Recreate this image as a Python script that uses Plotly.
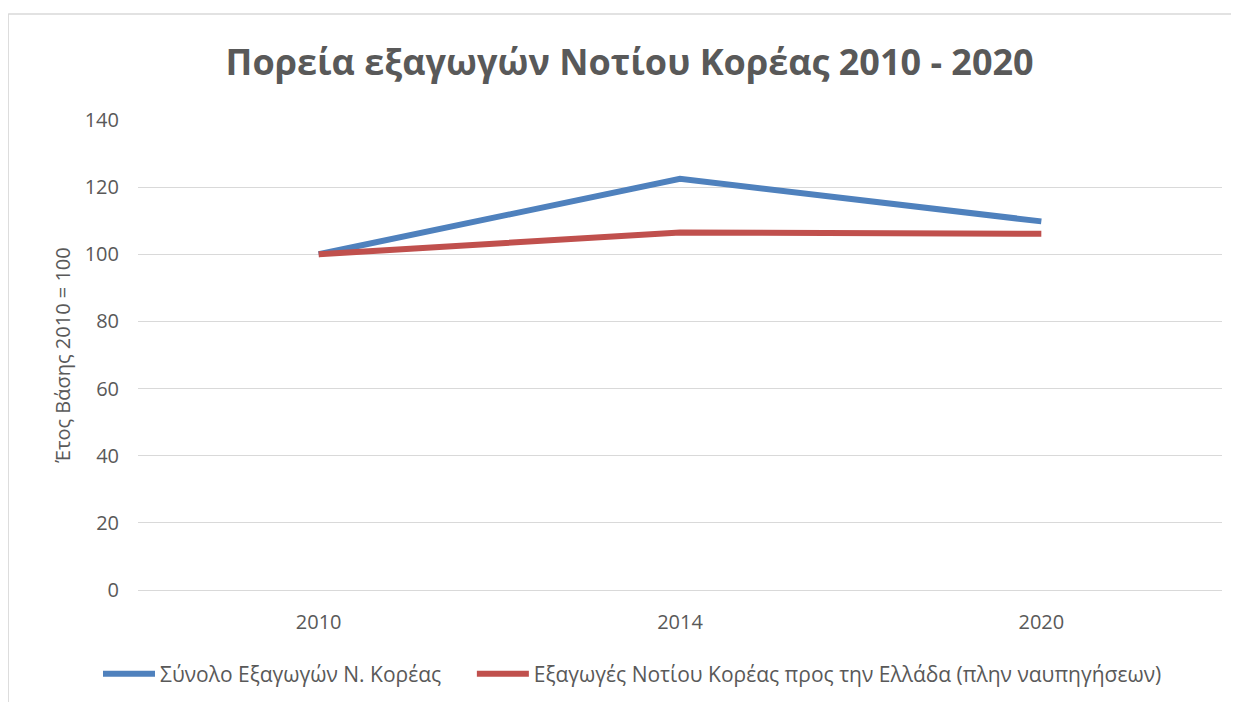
import plotly.graph_objects as go

years = ["2010", "2014", "2020"]
total_exports = [100, 122.5, 109.8]
exports_to_greece = [100, 106.5, 106.1]
series_names = ["Σύνολο Εξαγωγών Ν. Κορέας",
                "Εξαγωγές Νοτίου Κορέας προς την Ελλάδα (πλην ναυπηγήσεων)"]
y_ticks = [0, 20, 40, 60, 80, 100, 120, 140]

fig = go.Figure()
fig.add_trace(go.Scatter(x=years, y=total_exports, mode="lines", name=series_names[0],
                         line=dict(color="#4F81BD", width=6), legend="legend",
                         showlegend=True))
fig.add_trace(go.Scatter(x=years, y=exports_to_greece, mode="lines", name=series_names[1],
                         line=dict(color="#C0504D", width=6), legend="legend2",
                         showlegend=True))

font_family = "Open Sans, Liberation Sans, sans-serif"
legend_common = dict(orientation="h", xanchor="left", y=-0.179, yanchor="middle",
                     font=dict(size=21, color="#595959"), itemwidth=52,
                     bgcolor="rgba(0,0,0,0)")
fig.update_layout(
    width=1231, height=694,
    showlegend=True,
    margin=dict(l=130, r=17, t=112, b=112, autoexpand=False),
    paper_bgcolor="white", plot_bgcolor="white",
    title=dict(text="<b>Πορεία εξαγωγών Νοτίου Κορέας 2010 - 2020</b>",
               x=0.505, xanchor="center", y=0.922, yanchor="middle",
               font=dict(family=font_family, size=36, color="#595959")),
    font=dict(family=font_family, size=20, color="#595959"),
    xaxis=dict(type="category", range=[-0.5, 2.5], showgrid=False, ticks="",
               showline=True, linecolor="#D9D9D9", linewidth=1,
               ticklabelstandoff=14,
               tickfont=dict(size=20, color="#595959")),
    yaxis=dict(range=[0, 140], tickvals=y_ticks, showgrid=True, gridcolor="#D9D9D9",
               gridwidth=1, zeroline=False, ticks="", ticklen=0,
               ticklabelstandoff=18,
               tickfont=dict(size=20, color="#595959"),
               title=dict(text="Έτος Βάσης 2010 = 100", standoff=8,
                          font=dict(size=20, color="#595959"))),
    legend=dict(x=-0.0369, **legend_common),
    legend2=dict(x=0.308, **legend_common),
    shapes=[
        dict(type="line", xref="paper", yref="paper", x0=-0.1198, x1=-0.1198,
             y0=1.2255, y1=-0.3, line=dict(color="#D9D9D9", width=1.5)),
        dict(type="line", xref="paper", yref="paper", x0=-0.1198, x1=1.03,
             y0=1.2255, y1=1.2255, line=dict(color="#D9D9D9", width=1.5)),
    ],
)

fig.write_html("out.html")
